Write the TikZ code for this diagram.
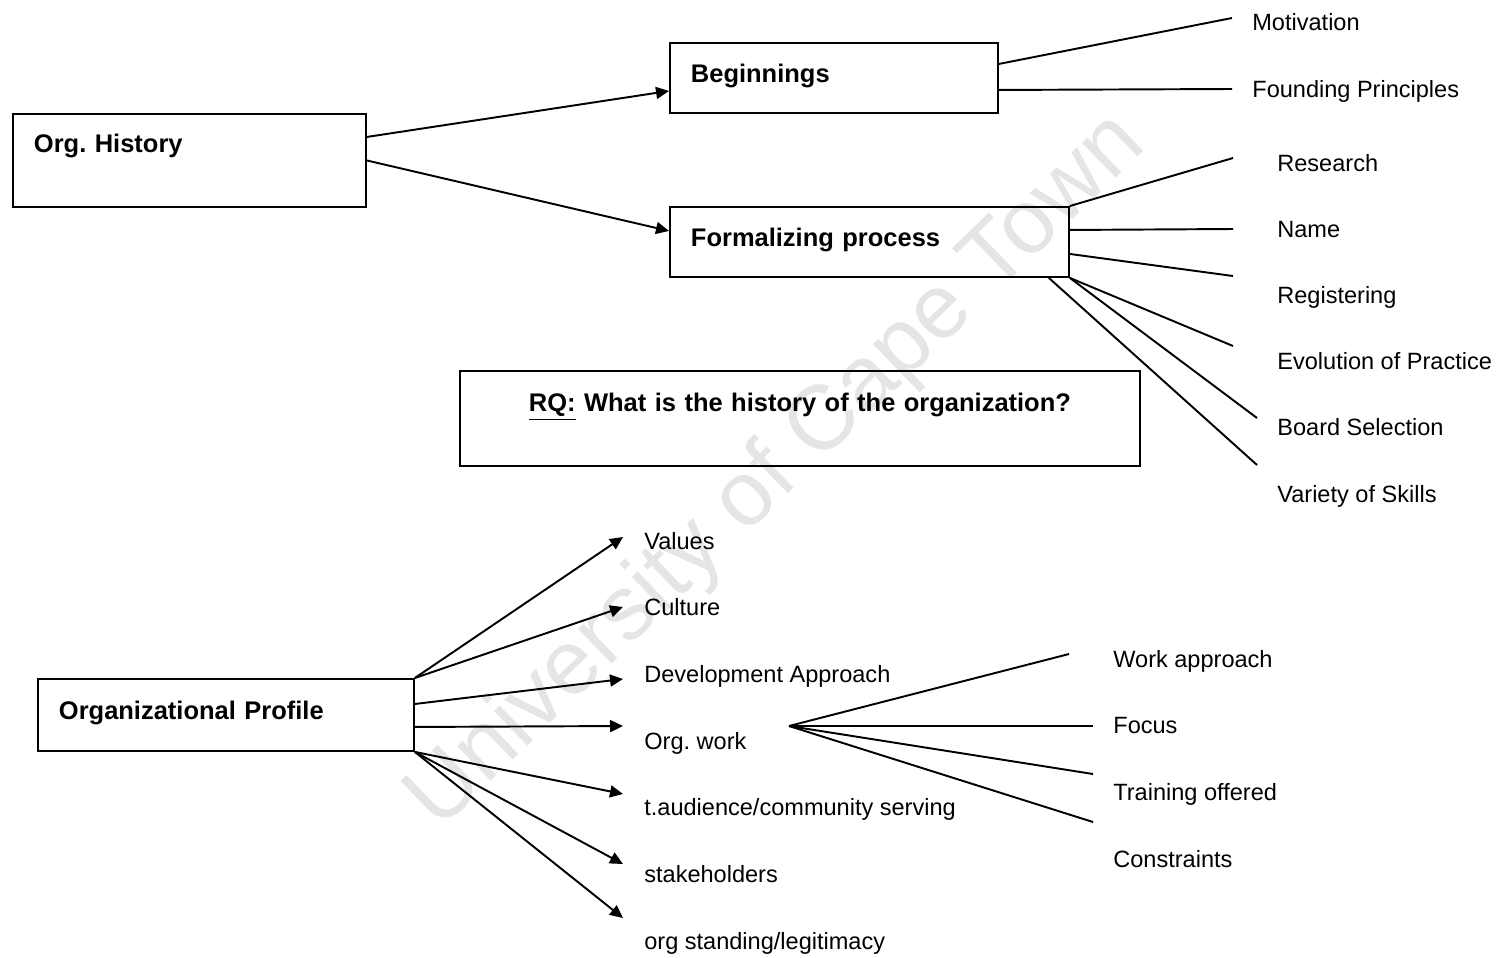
\documentclass[tikz,border=0pt]{standalone}
\usepackage{fontspec}
\setmainfont{Liberation Sans}
\usetikzlibrary{arrows.meta}

\begin{document}
\frenchspacing
\begin{tikzpicture}
  [
    x = 0.02cm, y = -0.02cm,
    box/.style = {draw, line width = 1.1pt, anchor = north west, align = left,
        inner xsep = 0.42cm, inner ysep = 0pt,
        font = \fontsize{14.5}{17}\selectfont\bfseries},
    item/.style = {anchor = base west, inner sep = 0pt,
        font = \fontsize{13.4}{16}\selectfont},
    link/.style = {line width = 1.1pt},
    arrow/.style = {link, -{Triangle[length = 0.26cm, width = 0.24cm]}},
  ]

  \useasboundingbox (0,0) rectangle (1500,957);

  % watermark
  \node (mark) [rotate = 44, text = black!10, font = \fontsize{52}{60}\selectfont]
    at (777,472) {University of Cape Town};

  % boxes
  \node (hist) [box, text width = 6.22cm, text height = 0.78cm, text depth = 1.08cm]
    at (12,113) {Org. History};
  \node (begin) [box, text width = 5.72cm, text height = 0.80cm, text depth = 0.60cm]
    at (669,42) {Beginnings};
  \node (formal) [box, text width = 7.14cm, text height = 0.80cm, text depth = 0.60cm]
    at (669,206) {Formalizing process};
  \node (rq) [box, align = center, inner xsep = 0pt, text width = 13.6cm,
      text height = 0.82cm, text depth = 1.08cm]
    at (459,370) {\underline{RQ:} What is the history of the organization?};
  \node (prof) [box, text width = 6.68cm, text height = 0.82cm, text depth = 0.62cm]
    at (37,678) {Organizational Profile};

  % labels
  \node (motiv) [item] at (1252,30) {Motivation};
  \node (found) [item] at (1252,97) {Founding Principles};

  \foreach \name/\txt [count = \i] in {research/Research, name/Name,
      regist/Registering, evol/Evolution of Practice,
      board/Board Selection, skills/Variety of Skills}
    \node (\name) [item] at (1277,{171 + 66.2*(\i-1)}) {\txt};

  \foreach \name/\txt [count = \i] in {values/Values, culture/Culture,
      develop/Development Approach, work/Org. work,
      audience/{t.audience/community serving}, stake/stakeholders,
      standing/{org standing/legitimacy}}
    \node (\name) [item] at (644,{549 + 66.7*(\i-1)}) {\txt};

  \foreach \name/\txt [count = \i] in {approach/Work approach, focus/Focus,
      training/Training offered, constr/Constraints}
    \node (\name) [item] at (1113,{667 + 66.7*(\i-1)}) {\txt};

  % free ends
  \coordinate (e-motiv) at (1232,18);
  \coordinate (e-found) at (1232,89);
  \coordinate (e-research) at (1233,158);
  \coordinate (e-name) at (1233,229);
  \coordinate (e-regist) at (1233,276);
  \coordinate (e-evol) at (1233,346);
  \coordinate (e-board) at (1257,418);
  \coordinate (e-skills) at (1257,465);
  \coordinate (e-values) at (623,537);
  \coordinate (e-culture) at (623,607);
  \coordinate (e-develop) at (623,679);
  \coordinate (e-work) at (623,726);
  \coordinate (e-audience) at (623,794);
  \coordinate (e-stake) at (623,864);
  \coordinate (e-standing) at (623,918);
  \coordinate (hub) at (789,726);
  \coordinate (e-approach) at (1069,654);
  \coordinate (e-focus) at (1093,726);
  \coordinate (e-training) at (1093,774);
  \coordinate (e-constr) at (1093,822);

  % history
  \draw[arrow] ([yshift = 0.47cm]hist.east) -- ([yshift = -0.26cm]begin.west);
  \draw[arrow] (hist.east) -- ([yshift = 0.22cm]formal.west);

  \draw[link] ([yshift = 0.28cm]begin.east) -- (e-motiv);
  \draw[link] ([yshift = -0.24cm]begin.east) -- (e-found);

  \draw[link] (formal.north east) -- (e-research);
  \draw[link] ([yshift = 0.24cm]formal.east) -- (e-name);
  \draw[link] ([yshift = -0.24cm]formal.east) -- (e-regist);
  \foreach \goal in {evol, board}
    \draw[link] (formal.south east) -- (e-\goal);
  \draw[link] ([xshift = -0.42cm]formal.south east) -- (e-skills);

  % profile
  \foreach \goal in {values, culture}
    \draw[arrow] (prof.north east) -- (e-\goal);
  \draw[arrow] ([yshift = 0.22cm]prof.east) -- (e-develop);
  \draw[arrow] ([yshift = -0.24cm]prof.east) -- (e-work);
  \foreach \goal in {audience, stake, standing}
    \draw[arrow] (prof.south east) -- (e-\goal);

  \foreach \goal in {approach, focus, training, constr}
    \draw[link] (hub) -- (e-\goal);

\end{tikzpicture}
\end{document}
